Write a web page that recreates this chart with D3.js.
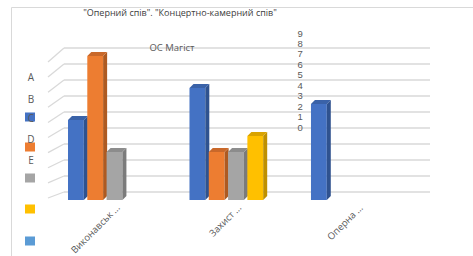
<!DOCTYPE html>
<html>
<head>
<meta charset="utf-8">
<script src="https://cdn.jsdelivr.net/npm/d3@7/dist/d3.min.js"></script>
<style>
  html, body { margin: 0; padding: 0; background: #fff; }
  svg { display: block; font-family: "Open Sans", "Noto Sans", sans-serif; }
</style>
</head>
<body>
<svg id="chart" width="473" height="256"></svg>
<script>
// Excel-style 3D clustered columns, legend labels out of place as in the source.
const title = '"Оперний спів". "Концертно-камерний спів"';
const subTitle = 'ОС Магіст';
const categories = ['Виконавськ ...', 'Захист ...', 'Оперна ...'];
const seriesNames = ['A', 'B', 'C', 'D', 'E'];
const seriesA = [5, 7, 6];
const seriesB = [9, 3, null];
const seriesC = [3, 3, null];
const seriesD = [null, 4, null];
const seriesE = [null, null, null];
const tickValues = [0, 1, 2, 3, 4, 5, 6, 7, 8, 9];

const seriesValues = [seriesA, seriesB, seriesC, seriesD, seriesE];
const colors = ['#4472C4', '#ED7D31', '#A5A5A5', '#FFC000', '#5B9BD5'];
const sideColors = ['#2F528F', '#AE5A21', '#7B7B7B', '#BF9000', '#41719C'];
const topColors = ['#3A62A8', '#C9682A', '#8C8C8C', '#D9A300', '#4E86B8'];

const svg = d3.select('#chart');

// frame
svg.append('path').attr('d', 'M11.5,256 V7.5 H473')
  .attr('fill', 'none').attr('stroke', '#D9D9D9').attr('stroke-width', 1);

// scales
const x0 = d3.scaleBand().domain(categories).range([55.85, 419.6])
  .paddingInner(0.2058).paddingOuter(0.1);
const x1 = d3.scaleBand().domain(seriesNames).range([0, x0.bandwidth()]);
const yFront = d3.scaleLinear().domain([0, 9]).range([200, 56]);
const yBack = d3.scaleLinear().domain([0, 9]).range([192, 48]);
const yLabels = d3.scaleLinear().domain([0, 9]).range([127, 33]);

// back wall gridlines + left wall diagonals
const grid = svg.append('g').attr('stroke', '#D9D9D9').attr('stroke-width', 1.3).attr('fill', 'none');
tickValues.forEach((v) => {
  const y = yBack(v);
  const d = 14 - 8 * (y - 48) / 144;
  grid.append('line').attr('x1', 64).attr('x2', 430).attr('y1', y).attr('y2', y);
  grid.append('line').attr('x1', 48).attr('y1', y + d).attr('x2', 64).attr('y2', y);
});

// misplaced value axis labels
const yAxis = svg.append('g').attr('transform', 'translate(297.5,0)')
  .call(d3.axisRight(yLabels).tickValues(tickValues).tickSize(0).tickPadding(0));
yAxis.select('.domain').remove();
yAxis.selectAll('text').attr('fill', '#595959').attr('font-size', 9.5);

// bars
const dx = 4, dy = -4;
const barW = x1.bandwidth() * 0.82;
seriesValues.forEach((vals, si) => {
  const g = svg.append('g');
  vals.forEach((v, ci) => {
    if (v == null) return;
    const x = x0(categories[ci]) + x1(seriesNames[si]);
    const yt = yFront(v), yb = yFront(0);
    g.append('rect').attr('x', x).attr('y', yt).attr('width', barW).attr('height', yb - yt)
      .attr('fill', colors[si]);
    g.append('polygon')
      .attr('points', [[x + barW, yt], [x + barW + dx, yt + dy], [x + barW + dx, yb + dy], [x + barW, yb]].join(' '))
      .attr('fill', sideColors[si]);
    g.append('polygon')
      .attr('points', [[x, yt], [x + dx, yt + dy], [x + barW + dx, yt + dy], [x + barW, yt]].join(' '))
      .attr('fill', topColors[si]);
  });
});

// category labels, rotated
svg.append('g').selectAll('text').data(categories).enter().append('text')
  .attr('transform', (c) => `translate(${x0(c) + x0.bandwidth() / 2 + 2},${206}) rotate(-45)`)
  .attr('text-anchor', 'end').attr('dy', '0.35em')
  .attr('font-size', 9.5).attr('fill', '#595959')
  .text((c) => c);

// titles
svg.append('text').attr('x', 180).attr('y', 16).attr('text-anchor', 'middle')
  .attr('font-size', 9).attr('fill', '#404040').text(title);
svg.append('text').attr('x', 172).attr('y', 51).attr('text-anchor', 'middle')
  .attr('font-size', 9.5).attr('fill', '#595959').text(subTitle);

// legend: swatches and letters drift apart
const legendY = [117, 147, 178, 209, 241];
const letterY = [77, 99, 118, 139, 160];
seriesNames.forEach((s, i) => {
  svg.append('rect').attr('x', 25).attr('y', legendY[i] - 4.5).attr('width', 10).attr('height', 9)
    .attr('fill', colors[i]);
  svg.append('text').attr('x', 31).attr('y', letterY[i]).attr('dy', '0.35em')
    .attr('text-anchor', 'middle').attr('font-size', 10).attr('fill', '#595959').text(s);
});
</script>
</body>
</html>
